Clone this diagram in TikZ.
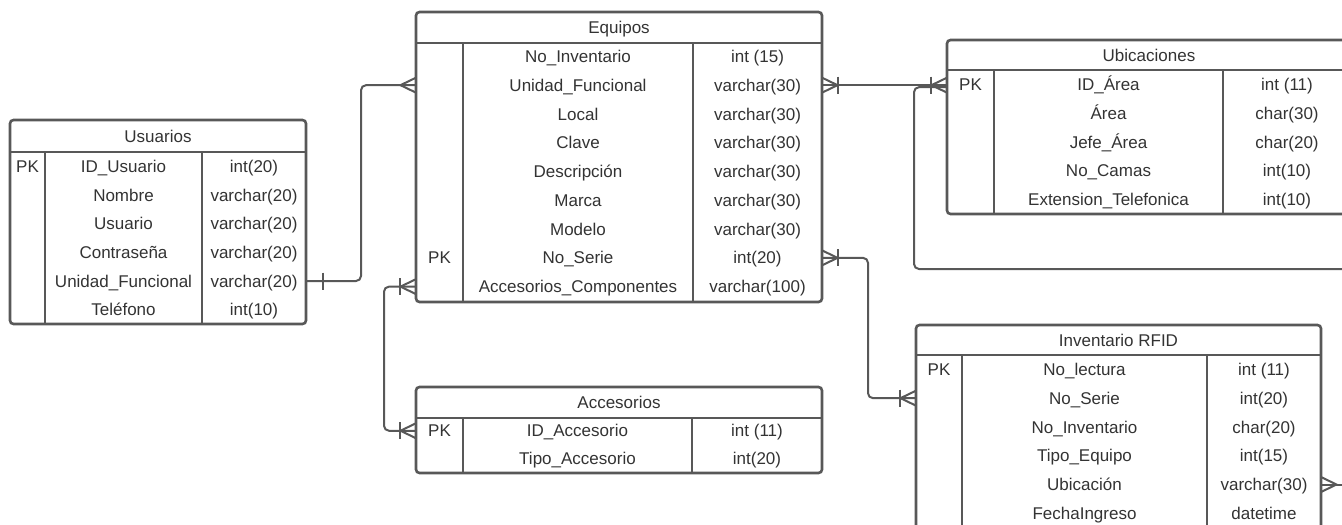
\documentclass[tikz,border=0pt]{standalone}
\usepackage{fontspec}
\setmainfont{Liberation Sans}
\usetikzlibrary{calc}
\definecolor{lc}{RGB}{88,88,88}
\definecolor{tc}{RGB}{51,51,51}
\newcommand\erfont{\fontsize{17}{20}\selectfont}
\begin{document}
\begin{tikzpicture}[x=1pt,y=-1pt,
  tbl/.style={draw=lc, line width=2.6pt, rounded corners=3.5pt, fill=white, inner sep=0pt, outer sep=0pt, anchor=north west},
  sep/.style={draw=lc, line width=2.6pt},
  cell/.style={text=tc, font=\erfont, inner sep=0pt, text height=12.2pt, text depth=0pt},
  rel/.style={draw=lc, line width=2pt, rounded corners=5pt},
  ft/.style={draw=lc, line width=2pt, sharp corners},
  footL/.pic={\draw[ft] (0,-7.5) -- (-15.5,0) -- (0,7.5);},
  footR/.pic={\draw[ft] (0,-7.5) -- (15.5,0) -- (0,7.5);},
  barL/.pic={\draw[ft] (-16,-8.5) -- (-16,8.5);},
  barR/.pic={\draw[ft] (16,-8.5) -- (16,8.5);},
  barRfar/.pic={\draw[ft] (17,-8.5) -- (17,8.5);}
]
\useasboundingbox (0,0) rectangle (1342,525);
\fill[white] (0,0) rectangle (1342,525);
\clip (0,0) rectangle (1342,525);

% ---------------- Usuarios ----------------
\node[tbl, minimum width=296pt, minimum height=204pt] (usu) at (10,120) {};
\draw[sep] (10,152) -- (306,152) (45,152) -- (45,324) (202,152) -- (202,324);
\node[cell] (usut) at (158,136) {Usuarios};
\node[cell] (usupk) at (27.5,166.3) {PK};
\foreach \nm/\ty [count=\i] in {ID\_Usuario/int(20), Nombre/varchar(20), Usuario/varchar(20), Contraseña/varchar(20), Unidad\_Funcional/varchar(20), Teléfono/int(10)}{
  \node[cell] (u\i) at (123.5,{152+28.67*(\i-0.5)}) {\nm};
  \node[cell] (ut\i) at (254,{152+28.67*(\i-0.5)}) {\ty};
}

% ---------------- Equipos ----------------
\node[tbl, minimum width=406pt, minimum height=290pt] (eq) at (416,12) {};
\draw[sep] (416,43) -- (822,43) (463,43) -- (463,302) (693,43) -- (693,302);
\node[cell] (eqt) at (619,27.5) {Equipos};
\foreach \nm/\ty [count=\i] in {No\_Inventario/int (15), Unidad\_Funcional/varchar(30), Local/varchar(30), Clave/varchar(30), Descripción/varchar(30), Marca/varchar(30), Modelo/varchar(30), No\_Serie/int(20), Accesorios\_Componentes/varchar(100)}{
  \node[cell] (e\i) at (578,{43+28.78*(\i-0.5)-1}) {\nm};
  \node[cell] (et\i) at (757.5,{43+28.78*(\i-0.5)-1}) {\ty};
}
\node[cell] (eqpk) at (439.5,{43+28.78*7.5-1}) {PK};

% ---------------- Ubicaciones ----------------
\node[tbl, minimum width=404pt, minimum height=174pt] (ub) at (947,40) {};
\draw[sep] (947,70) -- (1351,70) (994,70) -- (994,214) (1223,70) -- (1223,214);
\node[cell] (ubt) at (1149,55) {Ubicaciones};
\node[cell] (ubpk) at (970.5,84.4) {PK};
\foreach \nm/\ty [count=\i] in {ID\_Área/int (11), Área/char(30), Jefe\_Área/char(20), No\_Camas/int(10), Extension\_Telefonica/int(10)}{
  \node[cell] (b\i) at (1108.5,{70+28.8*(\i-0.5)}) {\nm};
  \node[cell] (bt\i) at (1287,{70+28.8*(\i-0.5)}) {\ty};
}

% ---------------- Inventario RFID ----------------
\node[tbl, minimum width=405pt, minimum height=230pt] (inv) at (916,325) {};
\draw[sep] (916,355) -- (1321,355) (962,355) -- (962,560) (1207,355) -- (1207,560);
\node[cell] (invt) at (1118.5,340) {Inventario RFID};
\node[cell] (invpk) at (939,369.4) {PK};
\foreach \nm/\ty [count=\i] in {No\_lectura/int (11), No\_Serie/int(20), No\_Inventario/char(20), Tipo\_Equipo/int(15), Ubicación/varchar(30), FechaIngreso/datetime}{
  \node[cell] (i\i) at (1084.5,{355+28.78*(\i-0.5)}) {\nm};
  \node[cell] (it\i) at (1264,{355+28.78*(\i-0.5)}) {\ty};
}

% ---------------- Accesorios ----------------
\node[tbl, minimum width=406pt, minimum height=86pt] (acc) at (416,387) {};
\draw[sep] (416,418) -- (822,418) (463,418) -- (463,473) (692,418) -- (692,473);
\node[cell] (acct) at (619,402.5) {Accesorios};
\node[cell] (accpk) at (439.5,430.75) {PK};
\foreach \nm/\ty [count=\i] in {ID\_Accesorio/int (11), Tipo\_Accesorio/int(20)}{
  \node[cell] (a\i) at (577.5,{418+27.5*(\i-0.5)-1}) {\nm};
  \node[cell] (at\i) at (757,{418+27.5*(\i-0.5)-1}) {\ty};
}

% ---------------- Connectors ----------------
\coordinate (k1) at (361,0);
\coordinate (k2) at (868,0);
\coordinate (k3) at (384,0);
\coordinate (loopc) at (914,269);
\coordinate (offA) at (1350,269);
\coordinate (offB) at (1350,0);

% Usuarios -> Equipos
\draw[rel] (usu.east |- u5) -| (k1 |- e2) -- (eq.west |- e2);
\pic at (usu.east |- u5) {barRfar};
\pic at (eq.west |- e2) {footL};

% Equipos -> Ubicaciones
\draw[rel] (eq.east |- e2) -- (ub.west |- e2);
\pic at (eq.east |- e2) {footR};
\pic at (eq.east |- e2) {barR};
\pic at (ub.west |- e2) {footL};
\pic at (ub.west |- e2) {barL};

% Ubicaciones loop (continues beyond the right edge)
\draw[rel] ($(ub.west |- e2)+(0,2)$) -| (loopc) -- (offA);

% Equipos -> Inventario RFID
\draw[rel] (eq.east |- e8) -| (k2 |- i2) -- (inv.west |- i2);
\pic at (eq.east |- e8) {footR};
\pic at (eq.east |- e8) {barR};
\pic at (inv.west |- i2) {footL};
\pic at (inv.west |- i2) {barL};

% Equipos -> Accesorios
\draw[rel] (eq.west |- e9) -| (k3 |- a1) -- (acc.west |- a1);
\pic at (eq.west |- e9) {footL};
\pic at (eq.west |- e9) {barL};
\pic at (acc.west |- a1) {footL};
\pic at (acc.west |- a1) {barL};

% Inventario RFID -> (off picture)
\draw[rel] (inv.east |- i5) -- (offB |- i5);
\pic at (inv.east |- i5) {footR};
\end{tikzpicture}
\end{document}
